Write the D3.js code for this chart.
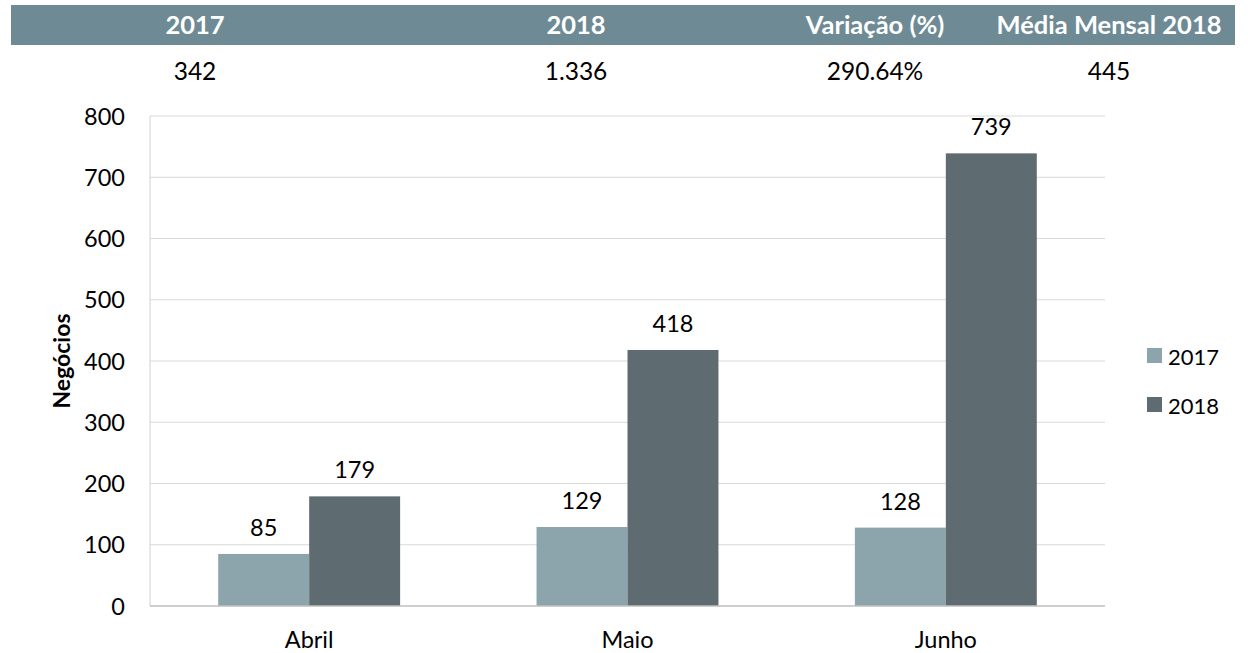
<!DOCTYPE html>
<html>
<head>
<meta charset="utf-8">
<script src="https://cdn.jsdelivr.net/npm/d3@7"></script>
<style>
  html, body { margin: 0; padding: 0; background: #fff; }
  svg text { font-family: Lato, "Open Sans", sans-serif; }
</style>
</head>
<body>
<div id="chart"></div>
<script>
const SUMMARY_HEADERS = ['2017', '2018', 'Variação (%)', 'Média Mensal 2018'];
const SUMMARY_VALUES = ['342', '1.336', '290.64%', '445'];

const MONTHS = ['Abril', 'Maio', 'Junho'];
const SERIES = ['2017', '2018'];
const VALUES_2017 = [85, 129, 128];
const VALUES_2018 = [179, 418, 739];
const Y_TICKS = [0, 100, 200, 300, 400, 500, 600, 700, 800];

const COLORS = { '2017': '#8ca4ab', '2018': '#5e6b70' };

const W = 1248, H = 653;
const svg = d3.select('#chart').append('svg').attr('width', W).attr('height', H);

// summary table at the top
const colCenters = [195, 576, 875, 1109];
svg.append('rect').attr('x', 11).attr('y', 5).attr('width', 1224).attr('height', 40).attr('fill', '#6e8b95');
svg.selectAll('.hdr').data(SUMMARY_HEADERS).enter().append('text')
  .attr('x', (d, i) => colCenters[i]).attr('y', 34)
  .attr('text-anchor', 'middle').attr('fill', '#fff')
  .attr('font-weight', 'bold').attr('font-size', 25.5)
  .text(d => d);
svg.selectAll('.val').data(SUMMARY_VALUES).enter().append('text')
  .attr('x', (d, i) => colCenters[i]).attr('y', 80)
  .attr('text-anchor', 'middle').attr('fill', '#000')
  .attr('font-size', 24.5)
  .text(d => d);

// chart
const plot = { left: 150, right: 1105, top: 116, bottom: 606 };
const x = d3.scaleBand().domain(MONTHS).range([plot.left, plot.right]).padding(0);
const xs = d3.scaleBand().domain(SERIES).range([0, x.bandwidth()]).paddingInner(0).paddingOuter(0.75);
const y = d3.scaleLinear().domain([0, 800]).range([plot.bottom, plot.top]);

svg.append('g').selectAll('line').data(Y_TICKS.filter(t => t > 0)).enter().append('line')
  .attr('x1', plot.left).attr('x2', plot.right)
  .attr('y1', d => y(d)).attr('y2', d => y(d))
  .attr('stroke', '#d9d9d9').attr('stroke-width', 1.2);

svg.append('line').attr('x1', plot.left).attr('x2', plot.left)
  .attr('y1', plot.top).attr('y2', plot.bottom).attr('stroke', '#d9d9d9').attr('stroke-width', 1.2);

const rows = MONTHS.map((m, i) => ({ month: m, '2017': VALUES_2017[i], '2018': VALUES_2018[i] }));
const groups = svg.append('g').selectAll('g').data(rows).enter().append('g')
  .attr('transform', d => `translate(${x(d.month)},0)`);

groups.selectAll('rect').data(d => SERIES.map(s => ({ s, v: d[s] }))).enter().append('rect')
  .attr('x', d => xs(d.s)).attr('width', xs.bandwidth())
  .attr('y', d => y(d.v)).attr('height', d => y(0) - y(d.v))
  .attr('fill', d => COLORS[d.s]);

groups.selectAll('text').data(d => SERIES.map(s => ({ s, v: d[s] }))).enter().append('text')
  .attr('x', d => xs(d.s) + xs.bandwidth() / 2).attr('y', d => y(d.v) - 18)
  .attr('text-anchor', 'middle').attr('font-size', 23.5).attr('fill', '#000')
  .text(d => d.v);

svg.append('line').attr('x1', plot.left).attr('x2', plot.right)
  .attr('y1', plot.bottom).attr('y2', plot.bottom).attr('stroke', '#bfbfbf').attr('stroke-width', 1.5);

// y axis labels
svg.append('g').selectAll('text').data(Y_TICKS).enter().append('text')
  .attr('x', 125).attr('y', d => y(d) + 8.5)
  .attr('text-anchor', 'end').attr('font-size', 23.5).attr('fill', '#000')
  .text(d => d);

// x axis labels
svg.append('g').selectAll('text').data(MONTHS).enter().append('text')
  .attr('x', d => x(d) + x.bandwidth() / 2).attr('y', 648)
  .attr('text-anchor', 'middle').attr('font-size', 23.5).attr('fill', '#000')
  .text(d => d);

svg.append('text').attr('transform', 'translate(70,361) rotate(-90)')
  .attr('text-anchor', 'middle').attr('font-size', 23).attr('font-weight', 'bold')
  .text('Negócios');

// legend
const legend = svg.append('g').selectAll('g').data(SERIES).enter().append('g')
  .attr('transform', (d, i) => `translate(1147,${356 + i * 49})`);
legend.append('rect').attr('x', 0).attr('y', -8).attr('width', 15).attr('height', 15)
  .attr('fill', d => COLORS[d]);
legend.append('text').attr('x', 21).attr('y', 8.5).attr('font-size', 22).text(d => d);
</script>
</body>
</html>
